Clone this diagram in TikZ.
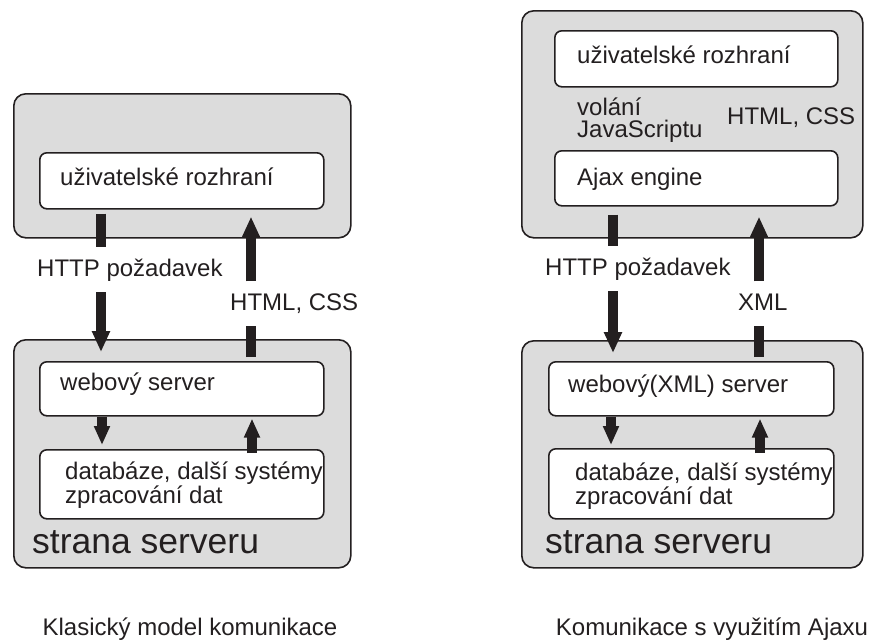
\documentclass[tikz,border=0pt]{standalone}
\usepackage{fontspec}
\setmainfont{Liberation Sans}
\usetikzlibrary{arrows.meta, positioning}
\definecolor{ink}{HTML}{231F20}
\definecolor{panel}{HTML}{DCDCDC}

\begin{document}
\begin{tikzpicture}[x=1pt, y=-1pt, color=ink, font=\fontsize{24}{21}\selectfont,
  outer/.style={draw=ink, fill=panel, line width=1.6pt, rounded corners=12pt, anchor=north west, inner sep=0pt},
  inner/.style={draw=ink, fill=white, line width=1.6pt, rounded corners=7pt, anchor=north west, inner sep=0pt},
  txt/.style={inner sep=0pt, anchor=base west},
  lbl/.style={txt, text height=17.5pt, text depth=5pt, inner ysep=11pt},
  side/.style={txt, font=\fontsize{35.5}{40}\selectfont},
  shaft/.style={line width=10pt, draw=ink},
  big/.style={shaft, -{Triangle[width=17pt, length=21pt]}},
  small/.style={shaft, -{Triangle[width=15pt, length=19pt]}}]

\useasboundingbox (0,0) rectangle (869,641);

% klasicky model
\node[outer, minimum width=337pt, minimum height=144pt] (cliL) at (13,93) {};
\node[inner, minimum width=284pt, minimum height=56pt] (uiL) at (39,152) {};
\node[txt] (uiLt) at (60,185) {uživatelské rozhraní};
\node[outer, minimum width=337pt, minimum height=228pt] (srvL) at (13,339) {};
\node[inner, minimum width=284pt, minimum height=54pt] (webL) at (39,361) {};
\node[txt] (webLt) at (60,390) {webový server};
\node[inner, minimum width=284pt, minimum height=69pt] (dbL) at (39,449) {};
\node[txt, anchor=north west, align=left] (dbLt) at (65,461.5) {databáze, další systémy\\zpracování dat};
\node[side] (sideL) at (32,553) {strana serveru};
\node[lbl] (reqL) at (37,276) {HTTP požadavek};
\node[lbl] (respL) at (230,310) {HTML, CSS};
\node[txt, anchor=base] (capL) at (190,635) {Klasický model komunikace};

\coordinate (dnL) at (101,0);
\coordinate (upL) at (251,0);
\coordinate (dnL2) at (102,0);
\coordinate (upL2) at (252,0);

\draw[shaft, shorten <=4pt] (uiL.south -| dnL) -- (reqL.north -| dnL);
\draw[big, shorten >=9pt] (reqL.south -| dnL) -- (webL.north -| dnL);
\draw[shaft, shorten <=4pt] (webL.north -| upL) -- (respL.south -| upL);
\draw[big, shorten >=7pt] (respL.north -| upL) -- (uiL.south -| upL);
\draw[small, shorten >=4pt] (webL.south -| dnL2) -- (dbL.north -| dnL2);
\draw[small, shorten <=-4pt, shorten >=2pt] (dbL.north -| upL2) -- (webL.south -| upL2);

% ajax
\node[outer, minimum width=341pt, minimum height=227pt] (cliR) at (521,10) {};
\node[inner, minimum width=283pt, minimum height=56pt] (uiR) at (554,30) {};
\node[txt] (uiRt) at (577,63) {uživatelské rozhraní};
\node[txt, anchor=north west, align=left, font=\fontsize{24}{22}\selectfont] (jsR) at (577,97.5) {volání\\JavaScriptu};
\node[txt] (htmlR) at (727,124) {HTML, CSS};
\node[inner, minimum width=283pt, minimum height=55pt] (ajR) at (554,150) {};
\node[txt] (ajRt) at (577,185) {Ajax engine};
\node[outer, minimum width=341pt, minimum height=227pt] (srvR) at (521,340) {};
\node[inner, minimum width=285pt, minimum height=54pt] (webR) at (548,361) {};
\node[txt] (webRt) at (568,392) {webový(XML) server};
\node[inner, minimum width=285pt, minimum height=70pt] (dbR) at (548,448) {};
\node[txt, anchor=north west, align=left] (dbRt) at (575,462.5) {databáze, další systémy\\zpracování dat};
\node[side] (sideR) at (545,553) {strana serveru};
\node[lbl] (reqR) at (545,275) {HTTP požadavek};
\node[lbl] (respR) at (738,310) {XML};
\node[txt, anchor=base] (capR) at (712,635) {Komunikace s využitím Ajaxu};

\coordinate (dnR) at (613,0);
\coordinate (upR) at (759,0);
\coordinate (dnR2) at (611,0);
\coordinate (upR2) at (760,0);

\draw[shaft, shorten <=8pt] (ajR.south -| dnR) -- (reqR.north -| dnR);
\draw[big, shorten >=8pt] (reqR.south -| dnR) -- (webR.north -| dnR);
\draw[shaft, shorten <=4pt] (webR.north -| upR) -- (respR.south -| upR);
\draw[big, shorten >=10pt] (respR.north -| upR) -- (ajR.south -| upR);
\draw[small, shorten >=3pt] (webR.south -| dnR2) -- (dbR.north -| dnR2);
\draw[small, shorten <=-5pt, shorten >=2pt] (dbR.north -| upR2) -- (webR.south -| upR2);

\end{tikzpicture}
\end{document}
